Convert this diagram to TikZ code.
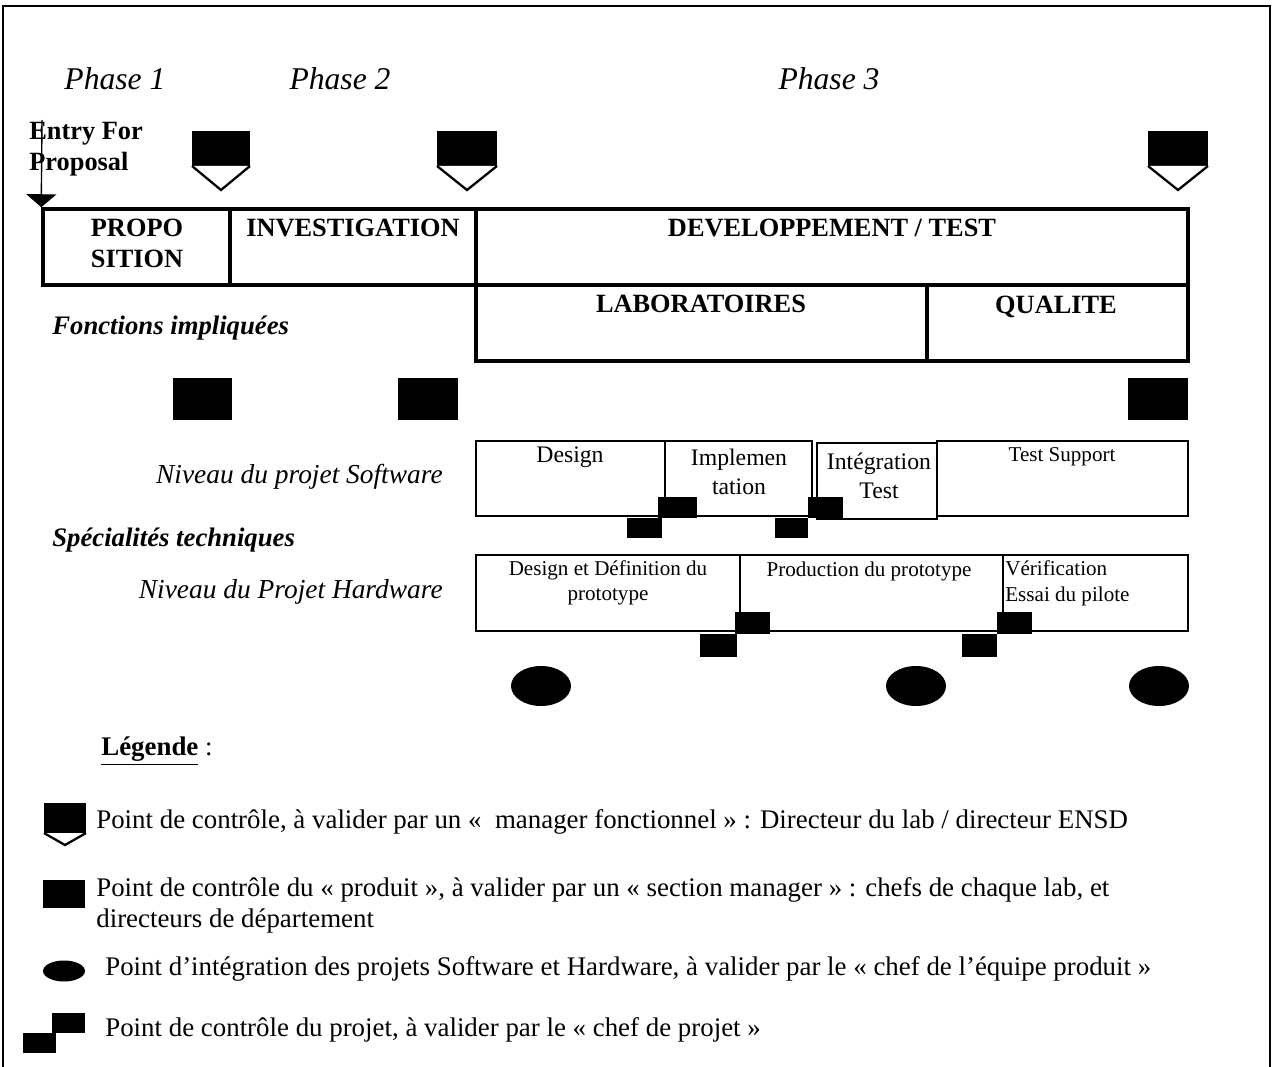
\documentclass[tikz,border=0pt]{standalone}
\usepackage{fontspec}
\setmainfont{Liberation Serif}
\usetikzlibrary{positioning,arrows.meta,fit}
% gate marker: x, y (top centre), half width, block height, tip length
\newcommand{\gatemark}[5]{%
  \fill (#1-#3,#2) rectangle (#1+#3,#2+#4);
  \draw[line width=1.3pt, fill=white] (#1-#3,#2+#4) -- (#1,#2+#4+#5) -- (#1+#3,#2+#4);
}
\tikzset{
  stage/.style={draw, line width=2pt, inner sep=0pt},
  task/.style={draw, line width=1.6pt, inner sep=0pt},
  stagetxt/.style={font=\fontsize{15}{17.6}\selectfont\bfseries, align=center, inner sep=0pt},
  tasktxt/.style={font=\fontsize{13.5}{16.5}\selectfont, align=center, inner sep=0pt},
  hwtxt/.style={font=\fontsize{12}{14.6}\selectfont, align=center, inner sep=0pt},
  phase/.style={font=\fontsize{18}{20}\selectfont\itshape, inner sep=0pt},
  rowlbl/.style={font=\fontsize{15.6}{18}\selectfont\itshape, anchor=east, inner sep=0pt},
  grplbl/.style={font=\fontsize{15.2}{18}\selectfont\bfseries\itshape, anchor=west, inner sep=0pt},
  legtxt/.style={font=\fontsize{15.3}{17.6}\selectfont, anchor=west, align=left, inner sep=0pt},
  chk/.style={fill=black},
  entry/.style={line width=0.8pt, -{Triangle[width=0.6cm,length=0.26cm]}},
}
\begin{document}
\begin{tikzpicture}[x=0.02cm, y=-0.02cm]
\useasboundingbox (0,0) rectangle (1274,1067);
\draw[line width=1.4pt] (3,1067) -- (3,6) -- (1270,6) -- (1270,1067);

% phases
\node[phase] (ph1) at (115,79) {Phase 1};
\node[phase] (ph2) at (340,79) {Phase 2};
\node[phase] (ph3) at (829,79) {Phase 3};

% stages
\node[stage, fit={(43,209) (230,285)}] (prop) {};
\node[stage, fit={(230,209) (476,285)}] (inv) {};
\node[stage, fit={(476,209) (1188,285)}] (dev) {};
\node[stage, fit={(476,285) (927,361)}] (lab) {};
\node[stage, fit={(927,285) (1188,361)}] (qual) {};
\node[stagetxt] (tprop) at (137,243) {PROPO\\SITION};
\node[stagetxt] (tinv) at (353,228) {INVESTIGATION};
\node[stagetxt] (tdev) at (832,228) {DEVELOPPEMENT / TEST};
\node[stagetxt] (tlab) at (701,304) {LABORATOIRES};
\node[stagetxt] (tqual) at (1056,307) {QUALITE};

% entry
\node[stagetxt, anchor=west, align=left] (ent) at (29,149) {Entry For\\Proposal};
\coordinate (entrytop) at (42,120);
\draw[entry] (entrytop) -- (prop.north west);

% gates
\gatemark{221}{131}{29}{35}{24}
\gatemark{467}{131}{30}{35}{24}
\gatemark{1178}{131}{30}{35}{24}

\node[grplbl] (fonc) at (52,328) {Fonctions impliquées};

\fill[chk] (173,378) rectangle (232,420);
\fill[chk] (398,378) rectangle (458,420);
\fill[chk] (1128,378) rectangle (1188,420);

% software
\node[rowlbl] (sw) at (443,477) {Niveau du projet Software};
\node[task, fit={(476,441) (665,516)}] (des) {};
\node[task, fit={(665,441) (812,516)}] (imp) {};
\node[task, fit={(817,443) (937,519)}] (integ) {};
\node[task, fit={(937,441) (1188,516)}] (tsup) {};
\node[tasktxt] (tdes) at (570,457) {Design};
\node[tasktxt] (timp) at (739,472) {Implemen\\tation};
\node[tasktxt] (tinteg) at (879,476) {Intégration\\Test};
\node[hwtxt] (ttsup) at (1062,457) {Test Support};
\fill[chk] (627,518) rectangle (662,538);
\fill[chk] (658,497) rectangle (697,518);
\fill[chk] (775,518) rectangle (808,538);
\fill[chk] (808,497) rectangle (843,518);

\node[grplbl] (spec) at (52,540) {Spécialités techniques};

% hardware
\node[rowlbl] (hw) at (443,592) {Niveau du Projet Hardware};
\node[task, fit={(476,555) (740,631)}] (ddef) {};
\node[task, fit={(740,555) (1003,631)}] (prod) {};
\node[task, fit={(1003,555) (1188,631)}] (verif) {};
\node[hwtxt] (tddef) at (608,583) {Design et Définition du\\prototype};
\node[hwtxt] (tprod) at (869,571) {Production du prototype};
\node[hwtxt, align=left, anchor=west] (tverif) at (1005,583) {Vérification\\Essai du pilote};
\fill[chk] (735,612) rectangle (770,634);
\fill[chk] (700,634) rectangle (737,657);
\fill[chk] (962,634) rectangle (997,657);
\fill[chk] (997,612) rectangle (1032,634);

% integration points
\fill[chk] (541,686) ellipse [x radius=0.6cm, y radius=0.4cm];
\fill[chk] (916,686) ellipse [x radius=0.6cm, y radius=0.4cm];
\fill[chk] (1159,686) ellipse [x radius=0.6cm, y radius=0.4cm];

% legend
\node[legtxt] (leg) at (101,751) {\textbf{\underline{Légende}} :};
\gatemark{65}{803}{21}{30}{12}
\node[legtxt] (leg1) at (96,822) {Point de contrôle, à valider par un «~ manager fonctionnel » : Directeur du lab / directeur ENSD};
\fill[chk] (43,880) rectangle (85,908);
\node[legtxt, anchor=north west] (leg2) at (96,877) {Point de contrôle du « produit », à valider par un « section manager » : chefs de chaque lab, et\\directeurs de département};
\fill[chk] (64,971) ellipse [x radius=0.42cm, y radius=0.21cm];
\node[legtxt] (leg3) at (105,969) {Point d’intégration des projets Software et Hardware, à valider par le « chef de l’équipe produit »};
\fill[chk] (52,1013) rectangle (85,1033);
\fill[chk] (23,1033) rectangle (56,1053);
\node[legtxt] (leg4) at (105,1030) {Point de contrôle du projet, à valider par le « chef de projet »};
\end{tikzpicture}
\end{document}
